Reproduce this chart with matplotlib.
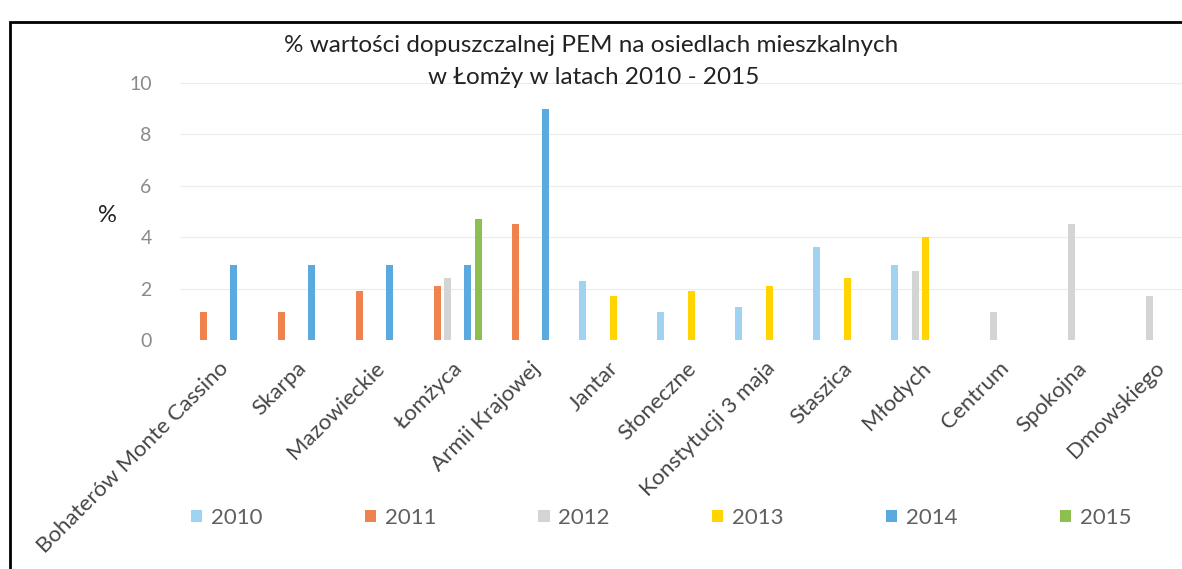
import numpy as np
import matplotlib.pyplot as plt
from matplotlib.patches import Rectangle

plt.rcParams['font.family'] = ['Lato', 'DejaVu Sans']

categories = ['Bohaterów Monte Cassino', 'Skarpa', 'Mazowieckie', 'Łomżyca',
              'Armii Krajowej', 'Jantar', 'Słoneczne', 'Konstytucji 3 maja',
              'Staszica', 'Młodych', 'Centrum', 'Spokojna', 'Dmowskiego']
years = ['2010', '2011', '2012', '2013', '2014', '2015']
n = np.nan
v2010 = [n, n, n, n, n, 2.3, 1.1, 1.3, 3.6, 2.9, n, n, n]
v2011 = [1.1, 1.1, 1.9, 2.1, 4.5, n, n, n, n, n, n, n, n]
v2012 = [n, n, n, 2.4, n, n, n, n, n, 2.7, 1.1, 4.5, 1.7]
v2013 = [n, n, n, n, n, 1.7, 1.9, 2.1, 2.4, 4.0, n, n, n]
v2014 = [2.9, 2.9, 2.9, 2.9, 9.0, n, n, n, n, n, n, n, n]
v2015 = [n, n, n, 4.7, n, n, n, n, n, n, n, n, n]
series = [v2010, v2011, v2012, v2013, v2014, v2015]
colors = ['#9fd3f1', '#f0824e', '#d4d4d4', '#ffd400', '#5aaae0', '#8cbf4f']

fig = plt.figure(figsize=(11.82, 5.69), dpi=100)
ax = fig.add_axes([179.5 / 1182, 1 - 340 / 569, 1014 / 1182, 257 / 569])

x = np.arange(len(categories))
slot = 0.132
for i, (vals, col, yr) in enumerate(zip(series, colors, years)):
    ax.bar(x + (i - 2.5) * slot, vals, width=0.09, color=col, label=yr, zorder=3)

ax.set_xlim(-0.5, len(categories) - 0.5)
ax.set_ylim(0, 10)
ax.set_yticks(range(0, 11, 2))
ax.grid(axis='y', color='#ececec', lw=0.8, zorder=0)
for s in ax.spines.values():
    s.set_visible(False)
ax.tick_params(axis='both', length=0)
ax.tick_params(axis='y', labelcolor='#8a8a8a', labelsize=14, pad=20)
ax.set_xticks(x)
ax.set_xticklabels(categories, rotation=45, ha='right', va='top',
                   rotation_mode='anchor', fontsize=16, color='#454545')
ax.tick_params(axis='x', pad=13)

fig.text(107 / 1182, 1 - 216 / 569, '%', fontsize=17, color='#222222',
         ha='center', va='center')
fig.text(591 / 1182, 1 - 46 / 569,
         '% wartości dopuszczalnej PEM na osiedlach mieszkalnych',
         fontsize=17.5, color='#222222', ha='center', va='center')
fig.text(594 / 1182, 1 - 78 / 569, 'w Łomży w latach 2010 - 2015',
         fontsize=17.5, color='#222222', ha='center', va='center')

fig.legend(loc='center', bbox_to_anchor=(661 / 1182, 1 - 518 / 569), ncol=6,
           frameon=False, fontsize=16, handlelength=0.5, handleheight=0.5,
           handletextpad=0.4, columnspacing=4.6, labelcolor='#606060')

fig.patches.append(Rectangle((10 / 1182, -0.05), 1.1, 0.05 + (569 - 22) / 569,
                             transform=fig.transFigure, fill=False,
                             edgecolor='black', lw=2))

fig.savefig('out.png', dpi=100)
